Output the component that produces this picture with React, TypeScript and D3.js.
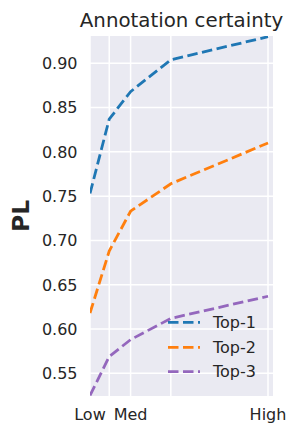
import React, { useRef, useEffect } from 'react';
import * as d3 from 'd3';

// certainty levels along the x axis (only Low, Med, High are labelled)
const levels = [0.5, 0.554, 0.614, 0.727, 1.0];
const tickLabels = ['Low', '', 'Med', '', 'High'];

const seriesNames = ['Top-1', 'Top-2', 'Top-3'];
const seriesColors = ['#1f77b4', '#ff7f0e', '#9467bd'];

const top1 = [0.753, 0.837, 0.868, 0.904, 0.930];
const top2 = [0.618, 0.688, 0.733, 0.764, 0.810];
const top3 = [0.525, 0.569, 0.588, 0.612, 0.637];

const yTicks = [0.55, 0.6, 0.65, 0.7, 0.75, 0.8, 0.85, 0.9];

const App: React.FC = () => {
  const ref = useRef<SVGSVGElement | null>(null);

  useEffect(() => {
    if (!ref.current) return;
    const svg = d3.select(ref.current);
    svg.selectAll('*').remove();

    const width = 299;
    const height = 435;
    const margin = { top: 36, right: 26, bottom: 39, left: 90 };
    const textColor = '#262626';
    const font = 'DejaVu Sans';
    const tickSize = 16;

    const x = d3.scaleLinear()
      .domain([0.5, 1.014])
      .range([margin.left, width - margin.right]);

    const y = d3.scaleLinear()
      .domain([0.5244, 0.9308])
      .range([height - margin.bottom, margin.top]);

    // background
    svg.append('rect')
      .attr('x', margin.left)
      .attr('y', margin.top)
      .attr('width', width - margin.left - margin.right)
      .attr('height', height - margin.top - margin.bottom)
      .attr('fill', '#EAEAF2');

    svg.append('clipPath')
      .attr('id', 'plot-clip')
      .append('rect')
      .attr('x', margin.left)
      .attr('y', margin.top)
      .attr('width', width - margin.left - margin.right)
      .attr('height', height - margin.top - margin.bottom);

    // gridlines
    svg.append('g')
      .selectAll('line')
      .data(yTicks)
      .join('line')
      .attr('x1', margin.left)
      .attr('x2', width - margin.right)
      .attr('y1', d => y(d))
      .attr('y2', d => y(d))
      .attr('stroke', 'white')
      .attr('stroke-width', 1.5);

    svg.append('g')
      .selectAll('line')
      .data(levels)
      .join('line')
      .attr('x1', d => x(d))
      .attr('x2', d => x(d))
      .attr('y1', margin.top)
      .attr('y2', height - margin.bottom)
      .attr('stroke', 'white')
      .attr('stroke-width', 1.5);

    // y tick labels
    svg.append('g')
      .selectAll('text')
      .data(yTicks)
      .join('text')
      .attr('x', margin.left - 12.5)
      .attr('y', d => y(d))
      .attr('dy', '0.36em')
      .attr('text-anchor', 'end')
      .attr('font-family', font)
      .attr('font-size', tickSize)
      .attr('fill', textColor)
      .text(d => d3.format('.2f')(d));

    // x tick labels
    svg.append('g')
      .selectAll('text')
      .data(levels.map((l, i) => ({ l, label: tickLabels[i] })).filter(d => d.label))
      .join('text')
      .attr('x', d => x(d.l))
      .attr('y', height - margin.bottom + 24)
      .attr('text-anchor', 'middle')
      .attr('font-family', font)
      .attr('font-size', tickSize)
      .attr('fill', textColor)
      .text(d => d.label);

    // lines
    const line = d3.line<number>()
      .x((_, i) => x(levels[i]))
      .y(d => y(d));

    const allSeries = [top1, top2, top3];
    svg.append('g')
      .attr('clip-path', 'url(#plot-clip)')
      .selectAll('path')
      .data(allSeries)
      .join('path')
      .attr('fill', 'none')
      .attr('stroke', (_, i) => seriesColors[i])
      .attr('stroke-width', 2.8)
      .attr('stroke-dasharray', '10.5,4.5')
      .attr('d', d => line(d));

    // legend
    const legend = svg.append('g');
    const legendX = 168;
    const legendY = [322.3, 347.3, 371.7];
    seriesNames.forEach((name, i) => {
      legend.append('line')
        .attr('x1', legendX)
        .attr('x2', legendX + 32)
        .attr('y1', legendY[i])
        .attr('y2', legendY[i])
        .attr('stroke', seriesColors[i])
        .attr('stroke-width', 2.8)
        .attr('stroke-dasharray', '10.5,4.5');
      legend.append('text')
        .attr('x', legendX + 45)
        .attr('y', legendY[i])
        .attr('dy', '0.36em')
        .attr('font-family', font)
        .attr('font-size', tickSize)
        .attr('fill', textColor)
        .text(name);
    });

    // title
    svg.append('text')
      .attr('x', (margin.left + width - margin.right) / 2)
      .attr('y', 26.5)
      .attr('text-anchor', 'middle')
      .attr('font-family', font)
      .attr('font-size', 19.8)
      .attr('fill', textColor)
      .text('Annotation certainty');

    // y axis label
    svg.append('text')
      .attr('transform', `translate(29,${(margin.top + height - margin.bottom) / 2}) rotate(-90)`)
      .attr('text-anchor', 'middle')
      .attr('font-family', font)
      .attr('font-weight', 'bold')
      .attr('font-size', 23.5)
      .attr('fill', textColor)
      .text('PL');
  }, []);

  return (
    <svg
      ref={ref}
      width={299}
      height={435}
      style={{ position: 'absolute', left: 0, top: 0, background: 'white' }}
    />
  );
};

export default App;
